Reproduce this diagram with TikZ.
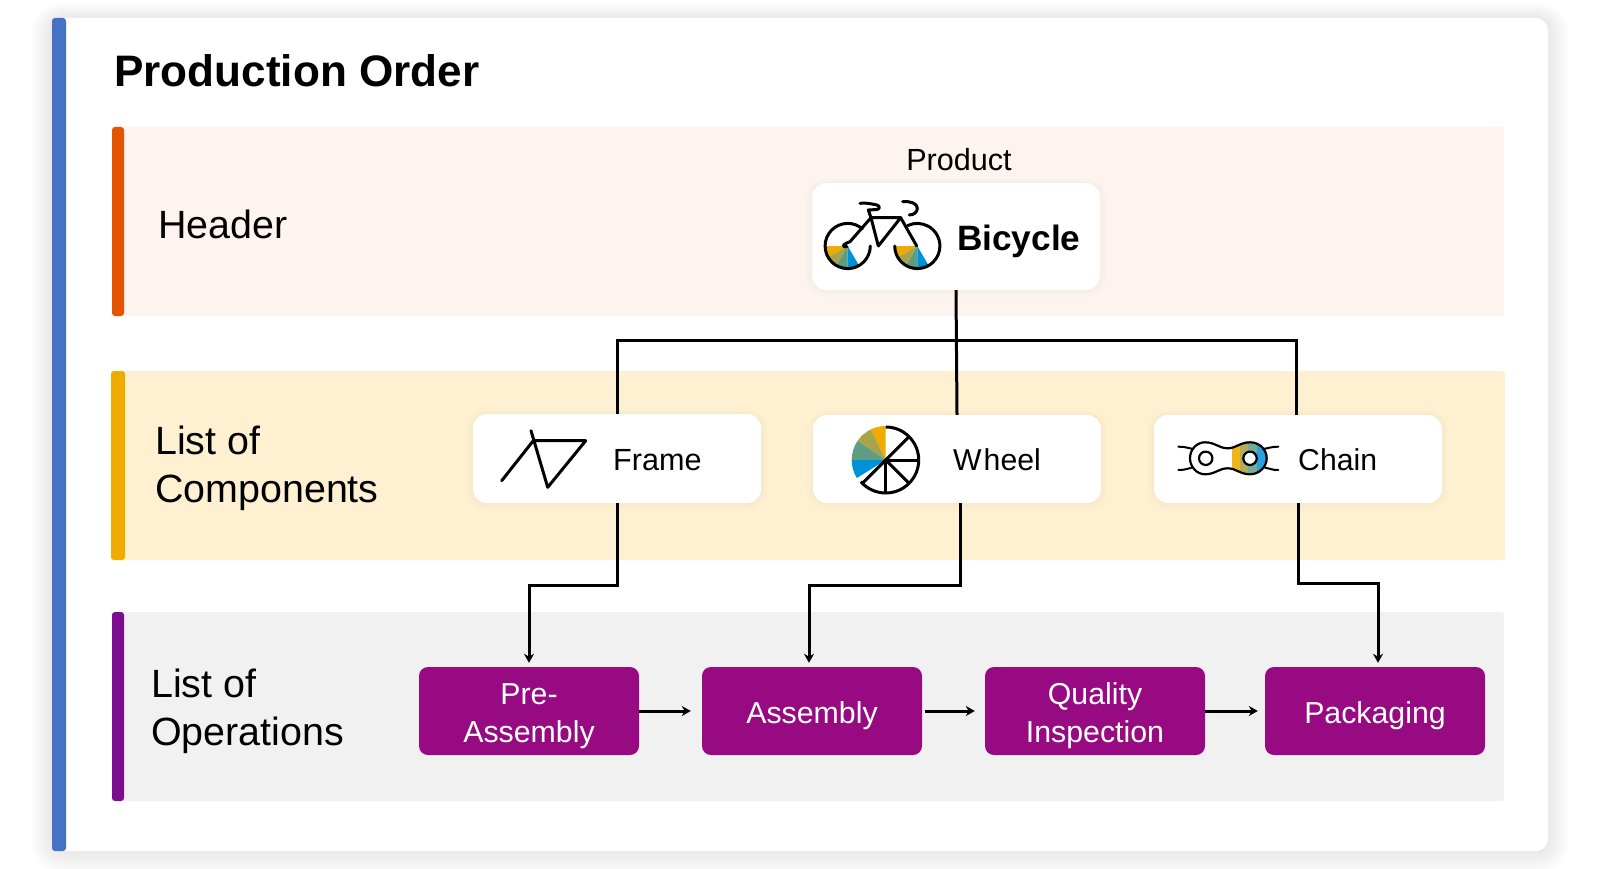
\documentclass[tikz,border=0pt]{standalone}
\usepackage{fontspec}
\setmainfont{Liberation Sans}
\usetikzlibrary{arrows.meta}
\definecolor{cblue}{HTML}{4472C4}
\definecolor{corange}{HTML}{E35500}
\definecolor{cyellow}{HTML}{F0AB00}
\definecolor{cpurple}{HTML}{7B0D8E}
\definecolor{cop}{HTML}{970A82}
\definecolor{bhead}{HTML}{FEF4EF}
\definecolor{bcomp}{HTML}{FEF0D0}
\definecolor{bops}{HTML}{F1F1F1}
\definecolor{pya}{HTML}{F0AB00}
\definecolor{pol}{HTML}{A8A44A}
\definecolor{pgr}{HTML}{5E9C84}
\definecolor{pbl}{HTML}{0092D6}
\newcommand{\fsz}[1]{\fontsize{#1}{#1}\selectfont}
\newcommand{\softshadow}[6]{%
  \foreach \i in {1,...,#6}{%
    \fill[black,fill opacity=0.003,rounded corners=#5pt+\i*1pt]
      (#1-\i,#2-\i*0.7) rectangle (#3+\i,#4+\i*1.1);
  }}
\newcommand{\pieslice}[4]{\fill[#4] (0,0) -- (#2:#1) arc[start angle=#2,end angle=#3,radius=#1] -- cycle;}
\newcommand{\opstrut}{\rule{0pt}{32pt}}
\newcommand{\opstrutone}{\rule{0pt}{30.5pt}}
\tikzset{
  band/.style={rounded corners=3pt},
  bar/.style={rounded corners=3pt},
  whitebox/.style={fill=white,rounded corners=14pt,inner sep=0pt,minimum width=288pt},
  opbox/.style={fill=cop,rounded corners=9pt,inner sep=0pt,minimum width=220pt,minimum height=88pt,
    text=white,align=center,font=\fontsize{30.3}{38}\selectfont},
  rowlabel/.style={anchor=base west,inner sep=0pt,font=\fsz{39.4}},
  boxlabel/.style={anchor=base west,inner sep=0pt,font=\fsz{30.2}},
  conn/.style={line width=3pt,black},
  arrowconn/.style={conn,-{Stealth[length=9pt,width=10pt]}},
  icon/.style={line width=3pt,line cap=round,line join=round},
}
\begin{document}
\begin{tikzpicture}[x=1pt,y=-1pt]
\useasboundingbox (0,0) rectangle (1600,869);
\fill[white] (0,0) rectangle (1600,869);
% card
\softshadow{52}{18}{1548}{851}{12}{22}
\fill[white,rounded corners=12pt] (52,18) rectangle (1548,851);
\fill[cblue,bar] (52,18) rectangle (66,851);
% title
\node[anchor=base west,inner sep=0pt,font=\bfseries\fsz{44.1}] (title) at (114,87) {Production Order};
% bands
\fill[bhead,band] (112,127) rectangle (1504,316);
\fill[corange,bar] (112,127) rectangle (124,316);
\fill[bcomp,band] (111,371) rectangle (1505,560);
\fill[cyellow,bar] (111,371) rectangle (125,560);
\fill[bops,band] (112,612) rectangle (1504,801);
\fill[cpurple,bar] (112,612) rectangle (124,801);
% row labels
\node[rowlabel] (lhead) at (158,238) {Header};
\node[rowlabel] (lcomp1) at (155,454) {List of};
\node[rowlabel] (lcomp2) at (155,502) {Components};
\node[rowlabel] (lops1) at (151,697) {List of};
\node[rowlabel] (lops2) at (151,745) {Operations};
% box shadows
\softshadow{812}{183}{1100}{290}{14}{7}
\softshadow{473}{414}{761}{503}{14}{7}
\softshadow{813}{415}{1101}{503}{14}{7}
\softshadow{1154}{415}{1442}{503}{14}{7}
% nodes
\node[whitebox,minimum height=107pt] (bike) at (956,236.5) {};
\node[whitebox,minimum height=89pt] (frame) at (617,458.5) {};
\node[whitebox,minimum height=88pt] (wheel) at (957,459) {};
\node[whitebox,minimum height=88pt] (chain) at (1298,459) {};
\node[opbox] (pre) at (529,711) {\opstrut Pre-\\Assembly};
\node[opbox] (asm) at (812,711) {\opstrutone Assembly};
\node[opbox] (qual) at (1095,711) {\opstrut Quality\\Inspection};
\node[opbox] (pack) at (1375,711) {\opstrutone Packaging};
% box labels
\node[anchor=base,inner sep=0pt,font=\fsz{30.6}] (lprod) at (959,171) {Product};
\node[anchor=base west,inner sep=0pt,font=\bfseries\fsz{35.2}] (lbike) at (957,250) {Bicycle};
\node[boxlabel,font=\fsz{30.6}] (lframe) at (613,470) {Frame};
\node[boxlabel] (lwheel) at (953,470) {W\kern2pt heel};
\node[boxlabel] (lchain) at (1298,470) {Chain};
% connectors
\coordinate (bus) at (957,340);
\draw[conn] (bike.south) -- (wheel.north);
\draw[conn] (frame.north) |- (bus) -| ([xshift=-2pt]chain.north);
\draw[arrowconn,shorten >=4pt] (frame.south) -- ++(0,82) -| (pre.north);
\draw[arrowconn,shorten >=4pt] ([xshift=3pt]wheel.south) -- ++(0,82) -| ([xshift=-3pt]asm.north);
\draw[arrowconn,shorten >=4pt] (chain.south) -- ++(0,80) -| ([xshift=3pt]pack.north);
\draw[arrowconn,shorten >=11pt] (pre.east) -- (asm.west);
\draw[arrowconn,shorten <=3pt,shorten >=10pt] (asm.east) -- (qual.west);
\draw[arrowconn,shorten >=7pt] (qual.east) -- (pack.west);
% bicycle icon
\begin{scope}[shift={(847.7,246)},y=1pt]
  \pieslice{23}{180}{210}{pya}\pieslice{23}{210}{240}{pol}\pieslice{23}{240}{270}{pgr}\pieslice{23}{270}{300}{pbl}
  \draw[icon] (0:22.6) arc[start angle=0,end angle=-310,radius=22.6];
\end{scope}
\begin{scope}[shift={(917.3,246)},y=1pt]
  \pieslice{23}{180}{210}{pya}\pieslice{23}{210}{240}{pol}\pieslice{23}{240}{270}{pgr}\pieslice{23}{270}{300}{pbl}
  \draw[icon] (180:22.6) arc[start angle=180,end angle=475,radius=22.6];
\end{scope}
\draw[icon] (860,203.3) .. controls (866,202.5) and (872,204) .. (877,205)
  .. controls (880,206) and (880,209) .. (877,209.5) -- (868.3,210) -- (871,217.7) -- (900.7,217.7) -- (878.3,246) -- (871,217.7) -- (850,241.7)
  .. controls (848,243.5) and (845,242.5) .. (843.5,245) .. controls (843,247) and (845,247.5) .. (847,246.5);
\draw[icon] (900.7,217.7) -- (916.7,246);
\draw[icon] (902.7,201.7) .. controls (911,201) and (917,203.5) .. (917.3,208)
  .. controls (917.5,212) and (914,215) .. (909.3,215);
% frame icon
\draw[icon] (501.7,480.7) -- (533.3,440.7);
\draw[icon] (531,430.7) -- (547.7,487.3) -- (585.7,440.7) -- (533.3,440.7);
% wheel icon
\begin{scope}[shift={(885.7,460)},y=1pt]
  \pieslice{34}{90}{116}{pya}\pieslice{34}{116}{146}{pol}\pieslice{34}{146}{180}{pgr}\pieslice{34}{180}{212}{pbl}
  \draw[icon,line cap=butt] (90:33) arc[start angle=90,end angle=-139,radius=33];
  \foreach \a in {45,0,-45,-90,-135}{\draw[icon,line cap=butt] (0,0) -- (\a:33);}
\end{scope}
% chain icon
\def\chainoutline{(1190,458.3) .. controls (1190,449) and (1197,442.3) .. (1205,442.3)
  .. controls (1215,442.3) and (1219,448.3) .. (1227.7,448.3)
  .. controls (1236,448.3) and (1240,442.3) .. (1250,442.3)
  .. controls (1259,442.3) and (1266.7,449) .. (1266.7,458.3)
  .. controls (1266.7,467) and (1259,474.3) .. (1250,474.3)
  .. controls (1240,474.3) and (1236,468.3) .. (1227.7,468.3)
  .. controls (1219,468.3) and (1215,474.3) .. (1205,474.3)
  .. controls (1197,474.3) and (1190,467) .. (1190,458.3) -- cycle}
\begin{scope}
  \clip \chainoutline;
  \fill[pya!90!white] (1231.7,438) rectangle (1240,478);
  \fill[pol!90!white] (1240,438) rectangle (1248.3,478);
  \fill[pgr!85!white] (1248.3,438) rectangle (1256.7,478);
  \fill[pbl!85!white] (1256.7,438) rectangle (1268,478);
\end{scope}
\draw[icon,line width=2.2pt] \chainoutline;
\draw[icon,line width=2.2pt,fill=white] (1205.7,458.3) circle[radius=6.7];
\draw[icon,line width=2.2pt,fill=white] (1250,458.3) circle[radius=6.7];
\draw[icon,line width=2pt] (1178.3,446.7) .. controls (1184,446.5) and (1188,448) .. (1193.3,449);
\draw[icon,line width=2pt] (1263.3,449) .. controls (1269,448) and (1273,446.5) .. (1278.3,446.7);
\draw[icon,line width=2pt] (1178.3,470) .. controls (1184,470.3) and (1188,468.5) .. (1191.7,467.7);
\draw[icon,line width=2pt] (1265,467.7) .. controls (1270,468.5) and (1273,470.3) .. (1278.3,470);
\end{tikzpicture}
\end{document}
